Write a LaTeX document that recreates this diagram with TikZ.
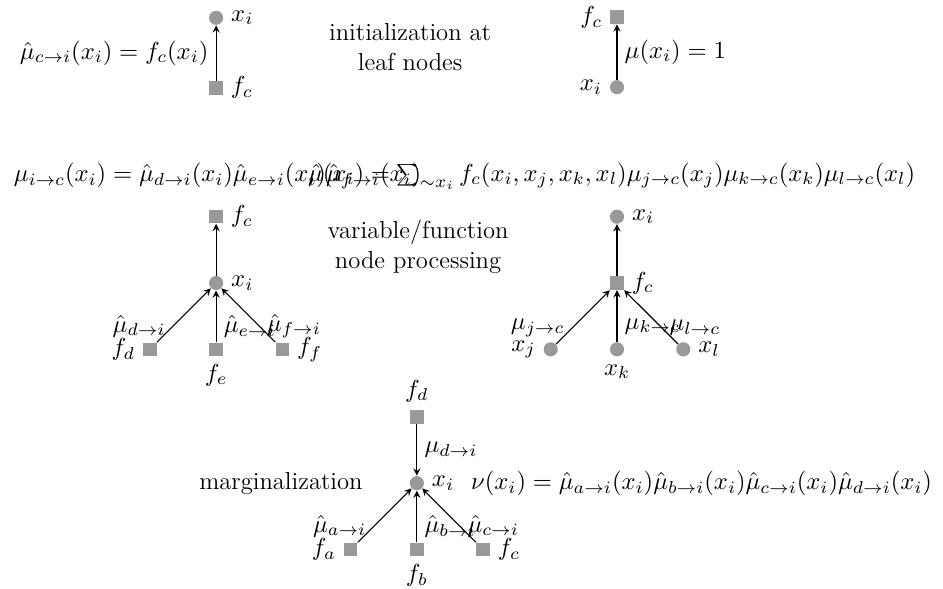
\RequirePackage{fix-cm}
\documentclass[tikz,border=0pt]{standalone}
\usetikzlibrary{positioning}

\tikzset{
  var/.style={circle, fill=black!40, inner sep=0pt, minimum size=0.23cm},
  fac/.style={rectangle, fill=black!40, inner sep=0pt, minimum size=0.22cm},
  msg/.style={-stealth, line width=0.5pt},
}

\begin{document}
\begin{tikzpicture}[on grid, node distance=1.08cm, font=\fontsize{11.4}{13.7}\selectfont]
    \useasboundingbox (0,0) rectangle (15.36,-9.59);

    % initialization at leaf nodes
    \node[var, label=right:$x_i$] (xa) at (3.52,-0.29) {};
    \node[fac, below=1.14cm of xa, label=right:$f_c$] (fa) {};
    \draw[msg] (fa) -- node[left] {$\hat\mu_{c\to i}(x_i) = f_c(x_i)$} (xa);
    \node[align=center] (init) at (6.68,-0.77) {initialization at\\leaf nodes};
    \node[fac, label=left:$f_c$] (fb) at (10.05,-0.28) {};
    \node[var, below=1.14cm of fb, label=left:$x_i$] (xb) {};
    \draw[msg] (xb) -- node[right] {$\mu(x_i) = 1$} (fb);

    % variable/function node processing
    \node[anchor=west] (eqv) at (0.1,-2.87)
        {$\mu_{i\to c}(x_i) = \hat\mu_{d\to i}(x_i)\hat\mu_{e\to i}(x_i)\hat\mu_{f\to i}(x_i)$};
    \node[anchor=east] (eqf) at (15.03,-2.87)
        {$\hat\mu(x_i) = \sum_{\sim x_i} f_c(x_i,x_j,x_k,x_l)\mu_{j\to c}(x_j)\mu_{k\to c}(x_k)\mu_{l\to c}(x_l)$};
    \node[align=center] (proc) at (6.81,-4.02) {variable/function\\node processing};

    \node[fac, label=right:$f_c$] (fc1) at (3.52,-3.53) {};
    \node[var, below=of fc1, label=right:$x_i$] (xi1) {};
    \node[fac, below left=1.08cm and 1.08cm of xi1, label=left:$f_d$] (fd1) {};
    \node[fac, below=of xi1, label=below:$f_e$] (fe1) {};
    \node[fac, below right=1.08cm and 1.08cm of xi1, label=right:$f_f$] (ff1) {};
    \draw[msg] (xi1) -- (fc1);
    \foreach \f/\s/\p in {fd1/d/left, fe1/e/right, ff1/f/right}
        \draw[msg] (\f) -- node[pos=0.3, \p] {$\hat\mu_{\s\to i}$} (xi1);

    \node[var, label=right:$x_i$] (xi2) at (10.05,-3.53) {};
    \node[fac, below=of xi2, label=right:$f_c$] (fc2) {};
    \node[var, below left=1.08cm and 1.08cm of fc2, label=left:$x_j$] (xj2) {};
    \node[var, below=of fc2, label=below:$x_k$] (xk2) {};
    \node[var, below right=1.08cm and 1.08cm of fc2, label=right:$x_l$] (xl2) {};
    \draw[msg] (fc2) -- (xi2);
    \foreach \v/\s/\p in {xj2/j/left, xk2/k/right, xl2/l/right}
        \draw[msg] (\v) -- node[pos=0.3, \p] {$\mu_{\s\to c}$} (fc2);

    % marginalization
    \node[var, label=right:$x_i$] (xi3) at (6.79,-7.87) {};
    \node[fac, above=of xi3, label=above:$f_d$] (fd3) {};
    \node[fac, below left=1.08cm and 1.08cm of xi3, label=left:$f_a$] (fa3) {};
    \node[fac, below=of xi3, label=below:$f_b$] (fb3) {};
    \node[fac, below right=1.08cm and 1.08cm of xi3, label=right:$f_c$] (fc3) {};
    \draw[msg] (fd3) -- node[right] {$\mu_{d\to i}$} (xi3);
    \foreach \f/\s/\p in {fa3/a/left, fb3/b/right, fc3/c/right}
        \draw[msg] (\f) -- node[pos=0.3, \p] {$\hat\mu_{\s\to i}$} (xi3);
    \node[anchor=east] (marg) at (6.03,-7.87) {marginalization};
    \node[anchor=west] (nu) at (7.55,-7.87)
        {$\nu(x_i) = \hat\mu_{a\to i}(x_i)\hat\mu_{b\to i}(x_i)\hat\mu_{c\to i}(x_i)\hat\mu_{d\to i}(x_i)$};
\end{tikzpicture}
\end{document}
